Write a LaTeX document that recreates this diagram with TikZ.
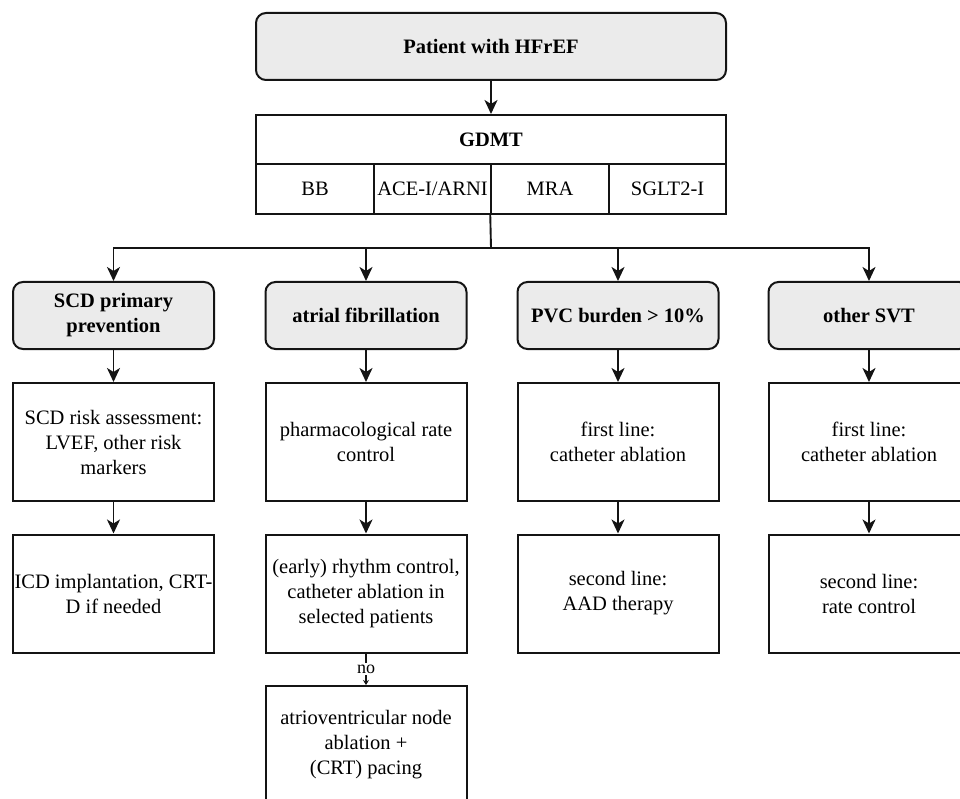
\documentclass[tikz,border=0pt]{standalone}
\usepackage{fontspec}
\setmainfont{Liberation Serif}
\usetikzlibrary{arrows.meta}
\definecolor{boxgray}{HTML}{EBEBEB}
\definecolor{edgecol}{HTML}{141414}
\tikzset{
  base/.style={draw=edgecol, line width=2pt, inner sep=2pt, align=center,
    font=\fontsize{20.5}{25}\selectfont, anchor=center},
  catbox/.style={base, fill=boxgray, rounded corners=10pt,
    font=\bfseries\fontsize{20.5}{25}\selectfont, minimum width=201pt, minimum height=67pt},
  stepbox/.style={base, minimum width=201pt, minimum height=118pt},
  cellbox/.style={base, minimum width=117.5pt, minimum height=50pt},
  arr/.style={draw=edgecol, line width=1.9pt, -{Stealth[length=14pt,width=13pt,inset=4pt]}},
  plainline/.style={draw=edgecol, line width=1.9pt},
}
\begin{document}
\begin{tikzpicture}[x=1pt,y=-1pt]
\useasboundingbox (0,0) rectangle (960,799);
\clip (0,0) rectangle (960,799);
% top
\node[catbox, minimum width=470pt] (top) at (491,46.5) {Patient with HFrEF};
% GDMT table
\node[base, font=\bfseries\fontsize{20.5}{25}\selectfont, minimum width=470pt, minimum height=49pt] (gdmt) at (491,139.5) {GDMT};
\node[cellbox] (bb) at (315,189) {BB};
\node[cellbox] (ace) at (432.5,189) {ACE-I/ARNI};
\node[cellbox] (mra) at (550,189) {MRA};
\node[cellbox] (sglt) at (667.5,189) {SGLT2-I};
\draw[arr] (top) -- (gdmt);
% categories
\node[catbox] (scd) at (113.5,315.5) {SCD primary\\prevention};
\node[catbox] (af) at (366,315.5) {atrial fibrillation};
\node[catbox] (pvc) at (618,315.5) {PVC burden > 10\%};
\node[catbox] (svt) at (869,315.5) {other SVT};
\coordinate (split) at (491,248);
\draw[plainline] (mra.south west) -- (split);
\draw[arr] (split) -| (scd.north);
\draw[arr] (split) -| (af.north);
\draw[arr] (split) -| (pvc.north);
\draw[arr] (split) -| (svt.north);
% second row
\node[stepbox] (scd2) at (113.5,442) {SCD risk assessment:\\LVEF, other risk\\markers};
\node[stepbox] (af2) at (366,442) {pharmacological rate\\control};
\node[stepbox] (pvc2) at (618,442) {first line:\\catheter ablation};
\node[stepbox] (svt2) at (869,442) {first line:\\catheter ablation};
\draw[arr] (scd) -- (scd2);
\draw[arr] (af) -- (af2);
\draw[arr] (pvc) -- (pvc2);
\draw[arr] (svt) -- (svt2);
% third row
\node[stepbox] (scd3) at (113.5,593.5) {ICD implantation, CRT-\\D if needed};
\node[stepbox] (af3) at (366,593.5) {(early) rhythm control,\\catheter ablation in\\selected patients};
\node[stepbox] (pvc3) at (618,593.5) {second line:\\AAD therapy};
\node[stepbox] (svt3) at (869,593.5) {second line:\\rate control};
\draw[arr] (scd2) -- (scd3);
\draw[arr] (af2) -- (af3);
\draw[arr] (pvc2) -- (pvc3);
\draw[arr] (svt2) -- (svt3);
% fourth
\node[stepbox] (af4) at (366,745) {atrioventricular node\\ablation +\\(CRT) pacing};
\draw[plainline, line width=1.2pt, -{Stealth[length=5pt,width=6pt]}] (af3) -- node[fill=white, inner sep=1.5pt, font=\fontsize{18}{20}\selectfont] {no} (af4);
\end{tikzpicture}
\end{document}
